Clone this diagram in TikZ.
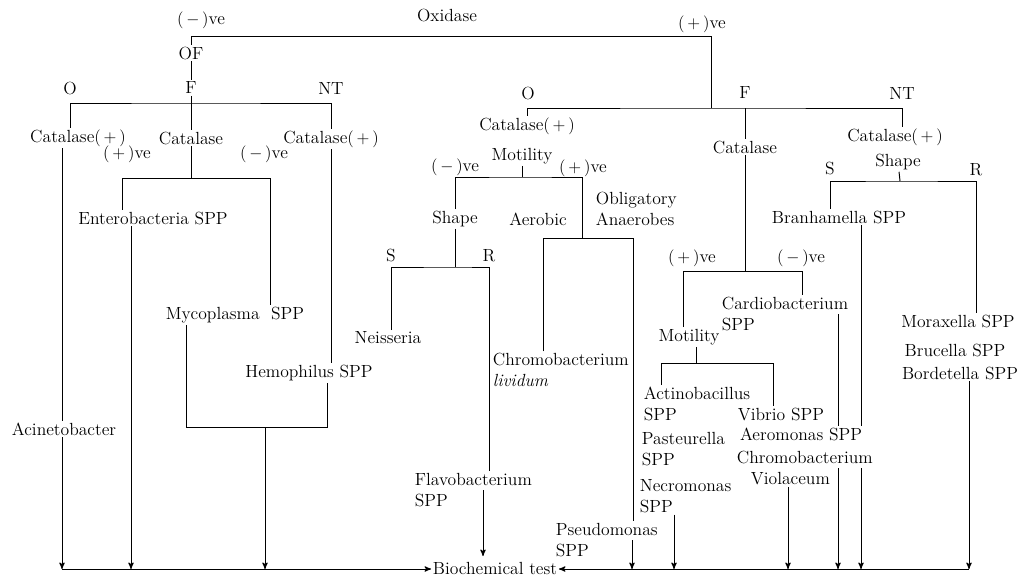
\documentclass[tikz,border=0pt]{standalone}
\usepackage{amsmath}
\usetikzlibrary{positioning,arrows}

\tikzset{
  lbl/.style={inner sep=1pt, font=\fontsize{12.5}{15}\selectfont},
  blk/.style={lbl, align=left, anchor=west},
}

\begin{document}
\begin{tikzpicture}[>=stealth', x=0.025cm, y=-0.025cm, line width=0.7pt]
        \useasboundingbox (0,0) rectangle (1024,580);
        \path
        % oxidase
        +(447,15)  node[lbl] (oxi)    {Oxidase}
        +(201,20)  node[lbl] (oxneg)  {$(\,-\,)$ve}
        +(702,24)  node[lbl] (oxpos)  {$(\,+\,)$ve}
        % oxidase (-)ve : OF
        +(191,53)  node[lbl] (of)     {OF}
        +(70,88)   node[lbl] (oL)     {O}
        +(191,88)  node[lbl] (fL)     {F}
        +(331,88)  node[lbl] (ntL)    {NT}
        +(78,138)  node[lbl] (catL1)  {Catalase$(\,+\,)$}
        +(191,138) node[lbl] (catL2)  {Catalase}
        +(331,139) node[lbl] (catL3)  {Catalase$(\,+\,)$}
        +(127,154) node[lbl] (posL)   {$(\,+\,)$ve}
        +(264,154) node[lbl] (negL)   {$(\,-\,)$ve}
        +(153,218) node[lbl] (entero) {Enterobacteria SPP}
        +(235,315) node[lbl] (myco)   {Mycoplasma\ \ SPP}
        +(309,373) node[lbl] (hemo)   {Hemophilus SPP}
        +(64,429)  node[lbl] (acin)   {Acinetobacter}
        % oxidase (+)ve : O
        +(528,93)  node[lbl] (oR)     {O}
        +(745,93)  node[lbl] (fR)     {F}
        +(902,93)  node[lbl] (ntR)    {NT}
        +(527,126) node[lbl] (catR1)  {Catalase$(\,+\,)$}
        +(522,156) node[lbl] (motA)   {Motility}
        +(455,167) node[lbl] (negA)   {$(\,-\,)$ve}
        +(583,168) node[lbl] (posA)   {$(\,+\,)$ve}
        +(455,219) node[lbl] (shapeA) {Shape}
        +(538,219) node[lbl] (aer)    {Aerobic}
        +(391,255) node[lbl] (sA)     {S}
        +(489,256) node[lbl] (rA)     {R}
        +(388,338) node[lbl] (neis)   {Neisseria}
        +(594,209) node[blk] (obl)    {Obligatory\\Anaerobes}
        +(491,370) node[blk] (chrl)   {Chromobacterium\\\textit{lividum}}
        +(413,490) node[blk] (flavo)  {Flavobacterium\\SPP}
        +(554,540) node[blk] (pseudo) {Pseudomonas\\SPP}
        % oxidase (+)ve : F
        +(745,147) node[lbl] (catR2)  {Catalase}
        +(692,258) node[lbl] (posB)   {$(\,+\,)$ve}
        +(801,258) node[lbl] (negB)   {$(\,-\,)$ve}
        +(720,314) node[blk] (cardio) {Cardiobacterium\\SPP}
        +(689,337) node[lbl] (motB)   {Motility}
        +(642,404) node[blk] (actino) {Actinobacillus\\SPP}
        +(640,449) node[blk] (paste)  {Pasteurella\\SPP}
        +(638,496) node[blk] (necro)  {Necromonas\\SPP}
        +(781,414) node[lbl] (vibrio) {Vibrio SPP}
        +(801,434) node[lbl] (aero)   {Aeromonas SPP}
        +(735,468) node[blk] (chrv)   {Chromobacterium\\\hspace*{10pt}Violaceum}
        % oxidase (+)ve : NT
        +(895,137) node[lbl] (catR3)  {Catalase$(\,+\,)$}
        +(898,162) node[lbl] (shapeB) {Shape}
        +(830,168) node[lbl] (sB)     {S}
        +(976,170) node[lbl] (rB)     {R}
        +(839,217) node[lbl] (bran)   {Branhamella SPP}
        +(958,321) node[lbl] (mora)   {Moraxella SPP}
        +(955,350) node[lbl] (bruc)   {Brucella SPP}
        +(960,373) node[lbl] (bord)   {Bordetella SPP}
        % end
        +(495,568) node[lbl] (bio)    {Biochemical test};

        % bars and arrow ends
        \coordinate (base)  at (0,569);
        \coordinate (topR)  at (711,36);
        \coordinate (barL)  at (191,103);
        \coordinate (barR)  at (711,108);
        \coordinate (catbar) at (191,178);
        \coordinate (cL)    at (122,178);
        \coordinate (cR)    at (270,178);
        \coordinate (mL)    at (186,427);
        \coordinate (hR)    at (327,427);
        \coordinate (mh)    at (265,427);
        \coordinate (motbar) at (522,177);
        \coordinate (ab)    at (582,238);
        \coordinate (aL)    at (543,238);
        \coordinate (aR)    at (633,238);
        \coordinate (shbar) at (455,267);
        \coordinate (fbar)  at (745,271);
        \coordinate (fbL)   at (683,271);
        \coordinate (fbR)   at (802,271);
        \coordinate (mbar)  at (696,363);
        \coordinate (mbL)   at (661,363);
        \coordinate (mbR)   at (773,363);
        \coordinate (sbar)  at (900,181);
        \coordinate (a1)  at (62,569);
        \coordinate (a2)  at (131,569);
        \coordinate (a3)  at (265,569);
        \coordinate (a4)  at (483,556);
        \coordinate (a5)  at (632,569);
        \coordinate (a6)  at (674,569);
        \coordinate (a7)  at (788,569);
        \coordinate (a8)  at (838,569);
        \coordinate (a9)  at (861,569);
        \coordinate (a10) at (969,569);

        % oxidase
        \draw (of.north) |- (topR) -- (barR);
        \draw (of) -- (fL);
        \draw (fL) -- (catL2);
        \draw (oL |- catL1.north) |- (barL) -| (ntL |- catL3.north);
        \draw (catR1.north) |- (barR) -| (ntR |- catR3.north);
        \draw (fR |- barR) -- (catR2);

        % left side
        \draw (catL2) -- (catbar);
        \draw (cL |- entero.north) -- (cL) -- (cR) -- (cR |- myco.north);
        \draw (a1 |- catL1.south) -- (a1 |- acin.north);
        \draw[->] (a1 |- acin.south) -- (a1);
        \draw[->] (a2 |- entero.south) -- (a2);
        \draw (catL3) -- (catL3 |- hemo.north);
        \draw (mL |- myco.south) -- (mL) -- (hR) -- (hR |- hemo.south);
        \draw[->] (mh) -- (a3);

        % O branch
        \draw (motA) -- (motbar);
        \draw (shapeA.north) |- (motbar) -| (ab);
        \draw (aL |- chrl.north) -- (aL) -- (aR) -- (aR |- pseudo.north);
        \draw (shapeA) -- (shbar);
        \draw (sA |- neis.north) |- (shbar) -| (rA |- flavo.north);
        \draw[->] (a4 |- flavo.center) -- (a4);
        \draw[->] (a5 |- pseudo.center) -- (a5);

        % F branch
        \draw (catR2) -- (fbar);
        \draw (fbL |- motB.north) -- (fbL) -- (fbR) -- (fbR |- cardio.north);
        \draw (mbar |- motB.south) -- (mbar);
        \draw (mbL |- actino.north) -- (mbL) -- (mbR) -- (mbR |- vibrio.north);
        \draw[->] (a6 |- necro.south) -- (a6);
        \draw[->] (a7 |- chrv.south) -- (a7);
        \draw (a8 |- cardio.center) -- (a8 |- aero.north);
        \draw[->] (a8 |- chrv.center) -- (a8);

        % NT branch
        \draw (shapeB) -- (sbar);
        \draw (sB |- bran.north) |- (sbar) -| (rB |- mora.north);
        \draw (a9 |- bran.south) -- (a9 |- aero.north);
        \draw[->] (a9 |- chrv.center) -- (a9);
        \draw[->] (a10 |- bord.south) -- (a10);

        % biochemical test
        \draw[->] (a1) -- (a1 -| bio.west);
        \draw[->] (a10) -- (a10 -| bio.east);
    \end{tikzpicture}
\end{document}
